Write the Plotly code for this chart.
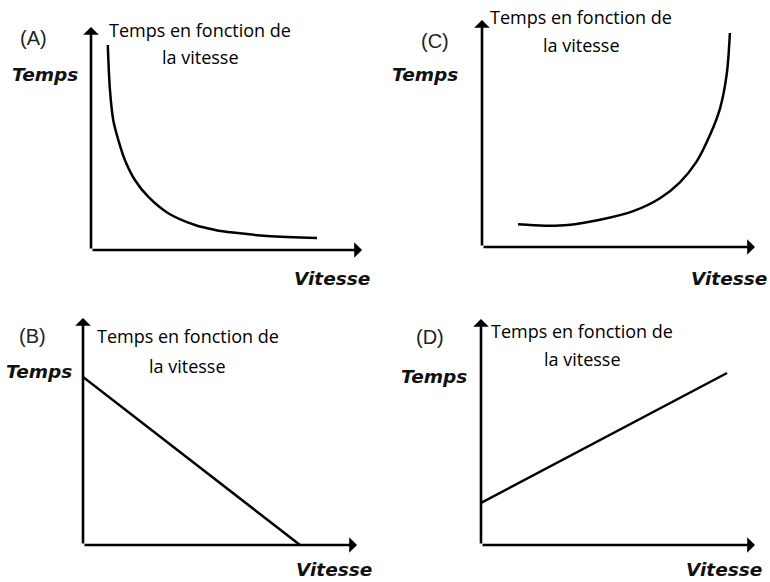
import plotly.graph_objects as go

W, H = 770, 582

# Valeurs (unités arbitraires, axes de 0 à 10)
a_vitesse = [0.62, 0.70, 0.82, 1.01, 1.25, 1.62, 2.11, 2.85, 3.84, 4.58, 5.24, 6.49, 8.34]
a_temps = [9.19, 7.17, 5.83, 4.93, 4.04, 3.14, 2.39, 1.65, 1.12, 0.90, 0.78, 0.63, 0.54]

b_vitesse = [0, 7.92]
b_temps = [7.40, 0]

c_vitesse = [1.32, 2.31, 3.15, 4.32, 5.54, 6.52, 7.25, 7.86, 8.35, 8.72, 8.96, 9.08]
c_temps = [1.00, 0.94, 0.97, 1.20, 1.58, 2.15, 2.85, 3.76, 4.93, 6.11, 7.58, 9.43]

d_vitesse = [0, 8.98]
d_temps = [1.86, 7.61]

lettres = ["(A)", "(C)", "(B)", "(D)"]
titre_l1 = "Temps en fonction de"
titre_l2 = "la vitesse"
label_y = "Temps"
label_x = "Vitesse"

# géométrie des panneaux en pixels : origine (ox, oy), bout des flèches (xt, yt)
PANELS = [
    dict(ox=91, oy=250, xt=362, yt=27, x=a_vitesse, y=a_temps, spline=True,
         lettre=(33, 38), temps=(45, 75), vit=(332, 278), t1=(200, 30), t2=(201, 57)),
    dict(ox=482, oy=247, xt=755, yt=20, x=c_vitesse, y=c_temps, spline=True,
         lettre=(435, 41), temps=(425, 75), vit=(729, 278), t1=(581, 17), t2=(581, 45)),
    dict(ox=83, oy=545, xt=357, yt=318, x=b_vitesse, y=b_temps, spline=False,
         lettre=(32, 336), temps=(39, 372), vit=(334, 569), t1=(188, 336), t2=(187, 366)),
    dict(ox=481, oy=545, xt=755, yt=319, x=d_vitesse, y=d_temps, spline=False,
         lettre=(430, 337), temps=(434, 376), vit=(724, 569), t1=(582, 331), t2=(582, 359)),
]

BLACK = "#000000"
TEXT_FONT = dict(family="Open Sans, Noto Sans, sans-serif", size=18, color=BLACK)
LETTER_FONT = dict(family="Liberation Sans, Arial, sans-serif", size=20, color="#222222")
AXIS_FONT = dict(family="DejaVu Sans, sans-serif", size=18.5, color="#111111")


def px(x, y):
    return x / W, 1 - y / H


fig = go.Figure()
annotations = []

for i, p in enumerate(PANELS):
    n = "" if i == 0 else str(i + 1)
    xa, ya = "x" + n, "y" + n

    fig.add_trace(go.Scatter(
        x=p["x"], y=p["y"], xaxis=xa, yaxis=ya,
        mode="lines",
        line=dict(color=BLACK, width=2.5, shape="spline" if p["spline"] else "linear",
                  smoothing=1.0),
        showlegend=False, hoverinfo="skip",
    ))

    axis_style = dict(range=[0, 10], showgrid=False, zeroline=False,
                      showticklabels=False, ticks="", showline=False, fixedrange=True)
    fig.update_layout(**{
        "xaxis" + n: dict(domain=[p["ox"] / W, p["xt"] / W], anchor=ya, **axis_style),
        "yaxis" + n: dict(domain=[1 - p["oy"] / H, 1 - p["yt"] / H], anchor=xa, **axis_style),
    })

    # flèches des axes
    for (tx, ty) in [(10, 0), (0, 10)]:
        annotations.append(dict(
            x=tx, y=ty, ax=0, ay=0, xref=xa, yref=ya, axref=xa, ayref=ya,
            text="", showarrow=True, arrowhead=1, arrowsize=1.0, arrowwidth=2.6,
            arrowcolor=BLACK, standoff=0, startstandoff=0,
        ))

    # textes
    for key, txt, font in [
        ("lettre", lettres[i], LETTER_FONT),
        ("temps", "<b><i>" + label_y + "</i></b>", AXIS_FONT),
        ("vit", "<b><i>" + label_x + "</i></b>", AXIS_FONT),
        ("t1", titre_l1, TEXT_FONT),
        ("t2", titre_l2, TEXT_FONT),
    ]:
        xp, yp = px(*p[key])
        annotations.append(dict(
            x=xp, y=yp, xref="paper", yref="paper", text=txt, showarrow=False,
            xanchor="center", yanchor="middle", font=font,
        ))

fig.update_layout(
    width=W, height=H,
    margin=dict(l=0, r=0, t=0, b=0),
    plot_bgcolor="#FFFFFF",
    paper_bgcolor="#FFFFFF",
    annotations=annotations,
    showlegend=False,
)

# la page a une marge par défaut de 8 px : on la supprime
fig.write_html("out.html", config={"displayModeBar": False},
               post_script="document.body.style.margin='0';")
